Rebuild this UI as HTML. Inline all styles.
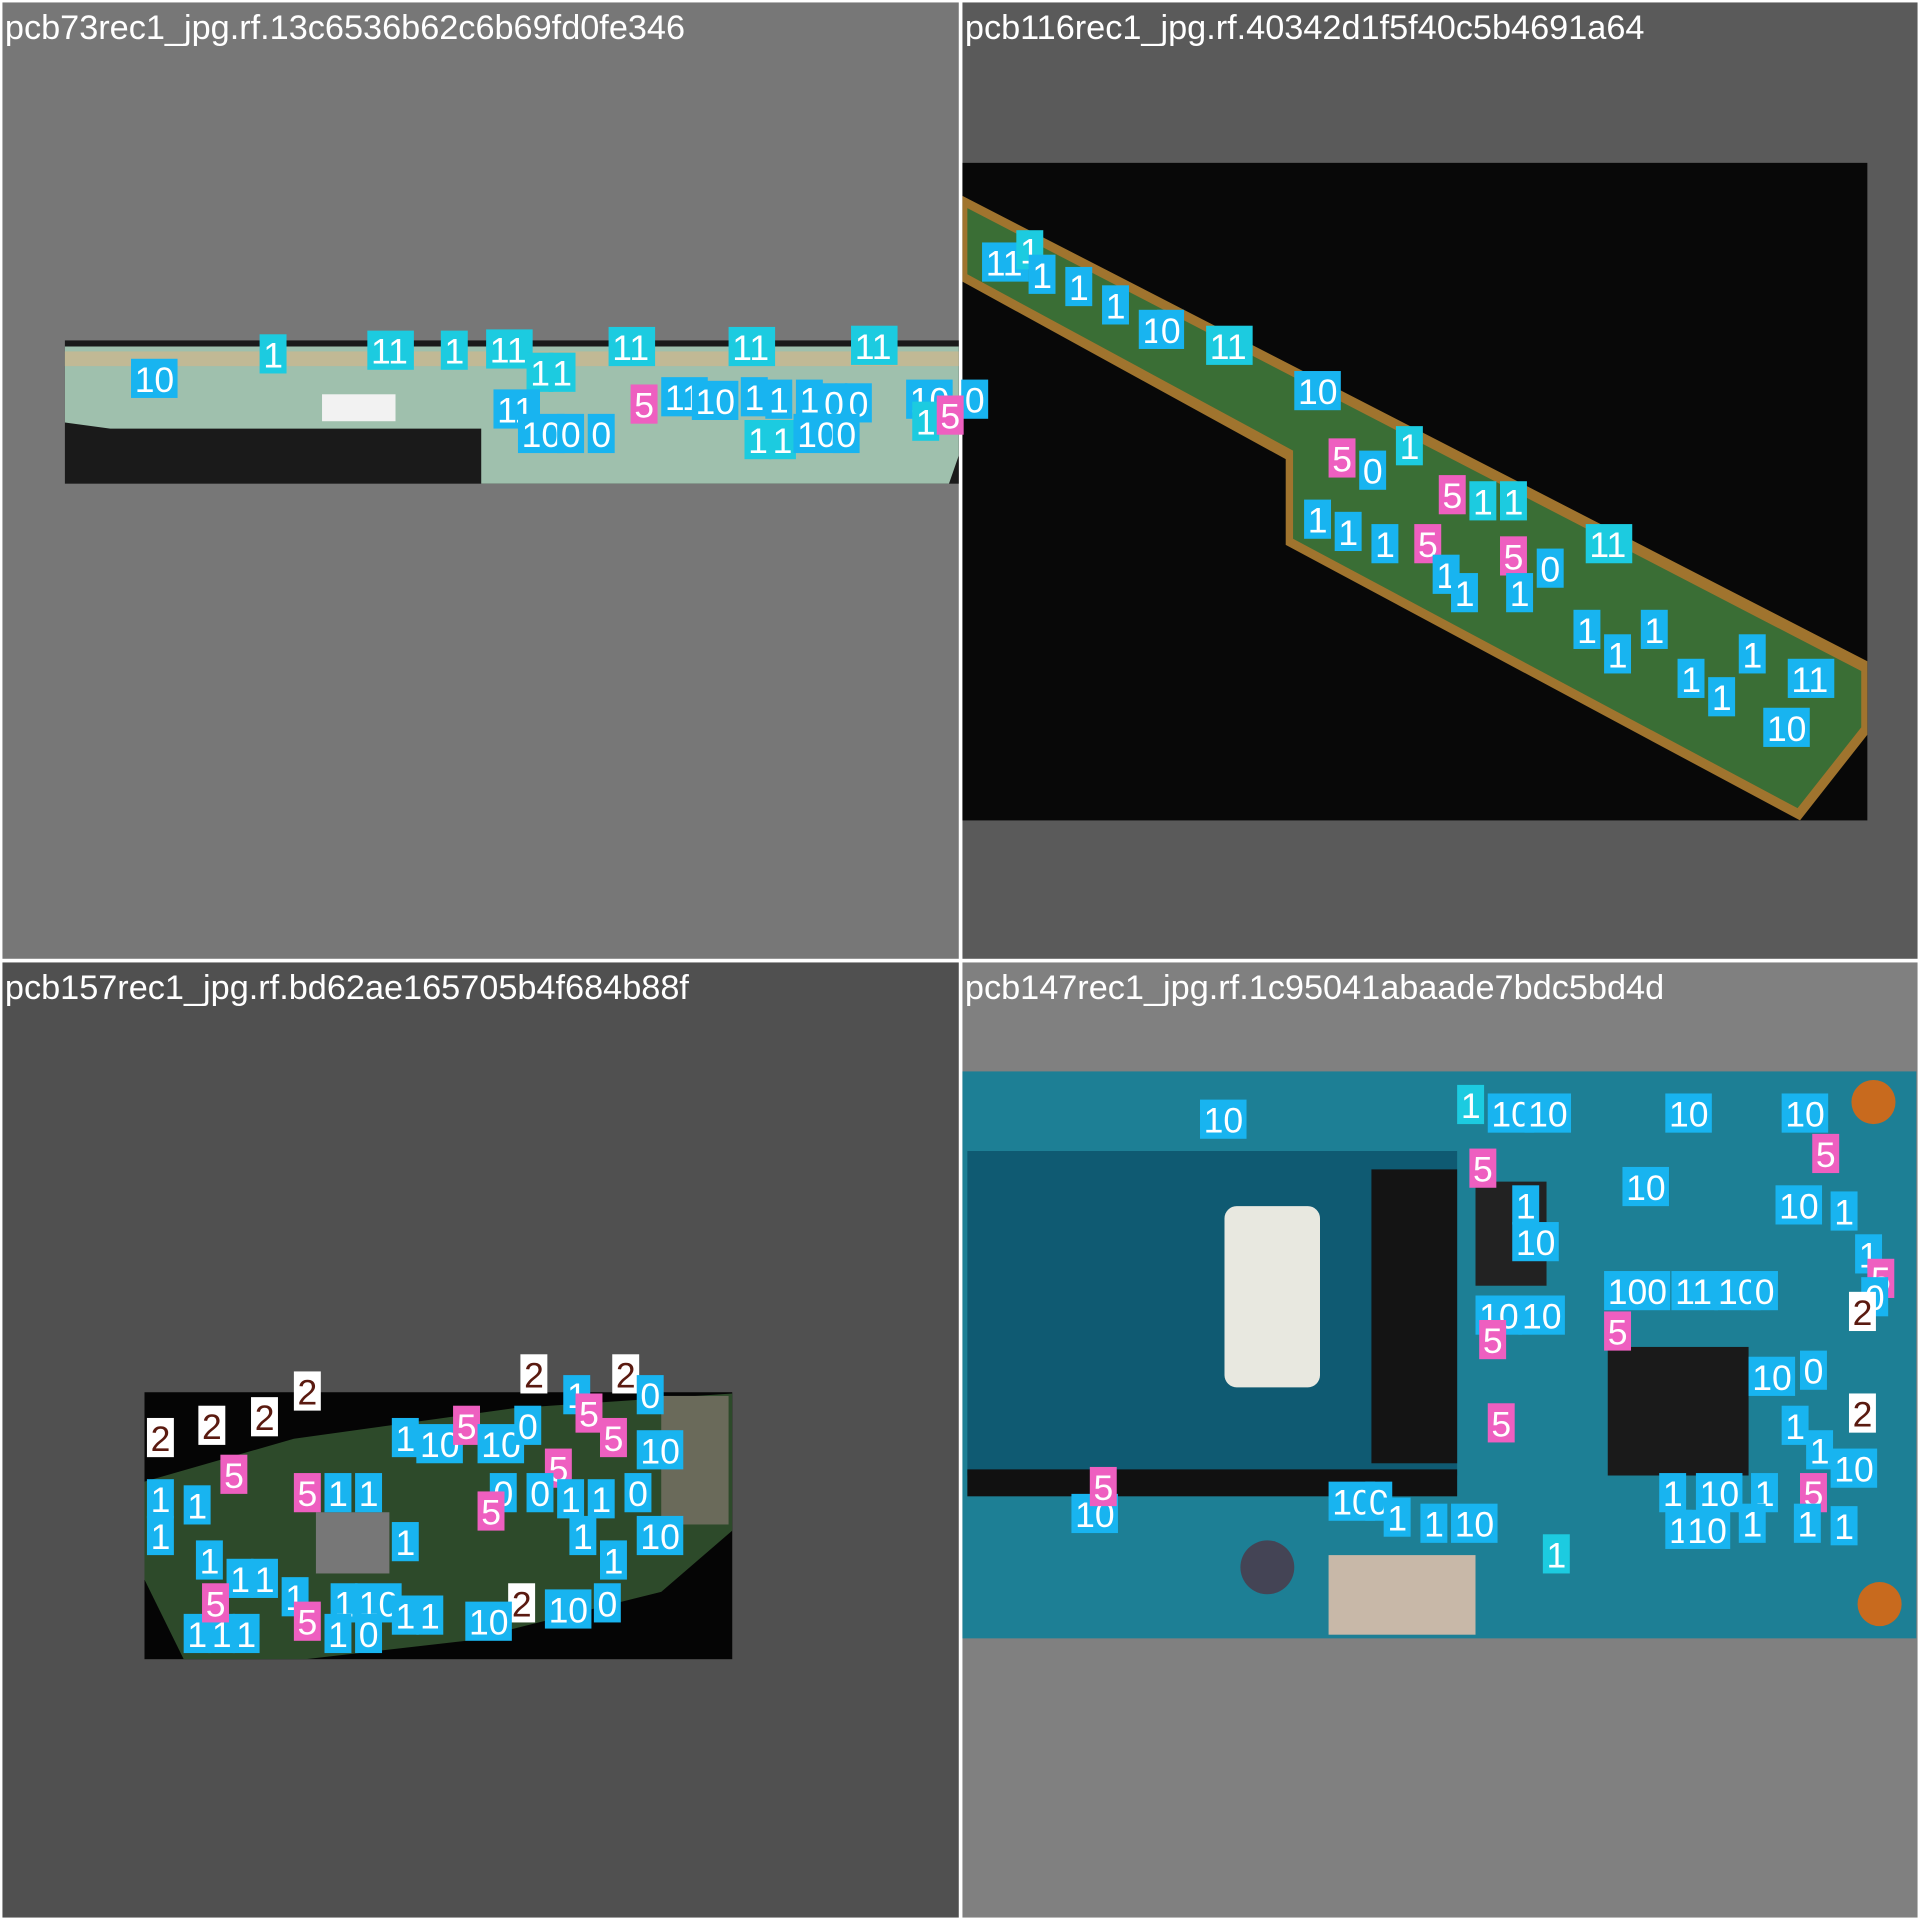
<!DOCTYPE html>
<html><head><meta charset="utf-8">
<style>
html,body{margin:0;padding:0;background:#fff;}
svg{display:block;}
text{font-family:"Liberation Sans",sans-serif;}
</style></head>
<body>
<svg id="s" width="1920" height="1920" viewBox="0 0 1568 1568" xmlns="http://www.w3.org/2000/svg">
<rect width="1568" height="1568" fill="#ffffff"/>
<rect x="2" y="2" width="781" height="781" fill="#777777"/>
<rect x="786" y="2" width="780" height="781" fill="#5a5a5a"/>
<rect x="2" y="786" width="781" height="780" fill="#505050"/>
<rect x="786" y="786" width="780" height="780" fill="#808080"/>

<g>
<rect x="53" y="278" width="730" height="117" fill="#1a1a1a"/>
<polygon points="53,283 783,283 783,372 775,395 393,395 393,350 90,350 53,345" fill="#9fc0ad"/>
<rect x="53" y="287" width="730" height="12" fill="#c9b78e" opacity="0.8"/>
<rect x="263" y="322" width="60" height="22" fill="#f2f2f2"/>
</g>
<g>
<rect x="786" y="133" width="739" height="537" fill="#080808"/>
<polygon points="786,160 1525,540 1525,600 1470,670 1050,445 1050,375 786,230" fill="#a0742e"/>
<polygon points="790,170 1520,548 1520,594 1468,660 1056,440 1056,368 790,224" fill="#3a6e35"/>
</g>
<g>
<rect x="118" y="1137" width="480" height="218" fill="#050505"/>
<polygon points="118,1210 240,1175 420,1150 598,1138 598,1250 540,1300 380,1340 250,1355 150,1355 118,1290" fill="#2d4a2a"/>
<rect x="258" y="1235" width="60" height="50" fill="#777"/>
<rect x="540" y="1140" width="55" height="105" fill="#6a6a5a"/>
</g>
<g>
<rect x="786" y="875" width="779" height="463" fill="#1d7f95"/>
<rect x="790" y="940" width="400" height="265" fill="#0f5a72"/>
<rect x="1120" y="955" width="70" height="240" fill="#141414"/>
<rect x="790" y="1200" width="400" height="22" fill="#111"/>
<rect x="1000" y="985" width="78" height="148" rx="10" fill="#e8e8e0"/>
<rect x="1313" y="1100" width="115" height="105" fill="#1a1a1a"/>
<rect x="1205" y="965" width="58" height="85" fill="#222"/>
<circle cx="1530" cy="900" r="18" fill="#c86a1e"/>
<circle cx="1535" cy="1310" r="18" fill="#c86a1e"/>
<circle cx="1035" cy="1280" r="22" fill="#445"/>
<rect x="1085" y="1270" width="120" height="65" fill="#c8b8a8"/>
</g>

<text x="4" y="32" font-size="28" fill="#fff">pcb73rec1_jpg.rf.13c6536b62c6b69fd0fe346</text>
<text x="788" y="32" font-size="28" fill="#fff">pcb116rec1_jpg.rf.40342d1f5f40c5b4691a64</text>
<text x="4" y="816" font-size="28" fill="#fff">pcb157rec1_jpg.rf.bd62ae165705b4f684b88f</text>
<text x="788" y="816" font-size="28" fill="#fff">pcb147rec1_jpg.rf.1c95041abaade7bdc5bd4d</text>
<g id="labels"></g>
</svg>
<script>
const C="#18b4f0",T="#1ccbe0",P="#ee5fc0",W="#ffffff";
const labels=[
[107,295,"10",C],[212,275,"1",T],[300,272,"11",T],[360,272,"1",T],[397,271,"11",T],[430,290,"1",T],[448,290,"1",T],[497,269,"11",T],[595,269,"11",T],[695,268,"11",T],[403,320,"11",C],[423,340,"10",C],[455,340,"0",C],[480,340,"0",C],[515,316,"5",P],[540,310,"11",C],[565,313,"10",C],[605,310,"1",C],[625,312,"1",C],[650,312,"1",C],[670,315,"0",C],[690,315,"0",C],[608,345,"1",T],[628,345,"1",T],[648,340,"10",C],[680,340,"0",C],[740,312,"10",C],[785,312,"0",C],[745,330,"1",T],[765,325,"5",P],
[802,200,"11",C],[830,190,"1",T],[840,210,"1",C],[870,220,"1",C],[900,235,"1",C],[930,255,"1",C],[945,255,"0",C],[985,268,"11",T],[1057,305,"10",C],[1085,360,"5",P],[1110,370,"0",C],[1140,350,"1",T],[1175,390,"5",P],[1200,395,"1",T],[1225,395,"1",T],[1065,410,"1",C],[1090,420,"1",C],[1120,430,"1",C],[1155,430,"5",P],[1170,455,"1",C],[1185,470,"1",C],[1225,440,"5",P],[1230,470,"1",C],[1255,450,"0",C],[1295,430,"11",T],[1285,500,"1",C],[1310,520,"1",C],[1340,500,"1",C],[1370,540,"1",C],[1395,555,"1",C],[1420,520,"1",C],[1440,580,"10",C],[1460,540,"11",C],
[120,1160,"2",W],[162,1150,"2",W],[205,1143,"2",W],[240,1122,"2",W],[425,1108,"2",W],[500,1108,"2",W],[415,1295,"2",W],
[120,1210,"1",C],[150,1215,"1",C],[180,1190,"5",P],[240,1205,"5",P],[265,1205,"1",C],[290,1205,"1",C],[320,1160,"1",C],[340,1165,"10",C],[370,1150,"5",P],[390,1165,"10",C],[420,1150,"0",C],[460,1125,"1",C],[470,1140,"5",P],[490,1160,"5",P],[520,1125,"0",C],[445,1185,"5",P],[520,1170,"10",C],[400,1205,"0",C],[430,1205,"0",C],[455,1210,"1",C],[480,1210,"1",C],[510,1205,"0",C],[390,1220,"5",P],[320,1245,"1",C],[465,1240,"1",C],[490,1260,"1",C],[520,1240,"10",C],[120,1240,"1",C],[160,1260,"1",C],[185,1275,"1",C],[205,1275,"1",C],[230,1290,"1",C],[270,1295,"1",C],[290,1295,"10",C],[320,1305,"1",C],[340,1305,"1",C],[380,1310,"10",C],[445,1300,"10",C],[485,1295,"0",C],[150,1320,"1",C],[170,1320,"1",C],[190,1320,"1",C],[240,1310,"5",P],[265,1320,"1",C],[290,1320,"0",C],[165,1295,"5",P],
[980,900,"10",C],[1190,888,"1",T],[1215,895,"10",C],[1245,895,"10",C],[1360,895,"10",C],[1455,895,"10",C],[1200,940,"5",P],[1480,928,"5",P],[1325,955,"10",C],[1450,970,"10",C],[1495,975,"1",C],[1235,970,"1",C],[1235,1000,"10",C],[1310,1040,"100",C],[1365,1040,"11",C],[1400,1040,"10",C],[1430,1040,"0",C],[1515,1010,"1",C],[1525,1030,"5",P],[1520,1045,"0",C],[1205,1060,"10",C],[1240,1060,"10",C],[1510,1057,"2",W],[1310,1073,"5",P],[1208,1080,"5",P],[1428,1110,"10",C],[1470,1105,"0",C],[1510,1140,"2",W],[1215,1148,"5",P],[1455,1150,"1",C],[1475,1170,"1",C],[1495,1185,"10",C],[1355,1205,"1",C],[1385,1205,"10",C],[1430,1205,"1",C],[1470,1205,"5",P],[1085,1212,"10",C],[1115,1212,"0",C],[1130,1225,"1",C],[1160,1230,"1",C],[1185,1230,"10",C],[1360,1235,"1",C],[1375,1235,"10",C],[1420,1230,"1",C],[1465,1230,"1",C],[1495,1232,"1",C],[875,1222,"10",C],[890,1200,"5",P],[1260,1255,"1",T]
];
const g=document.getElementById('labels');
const NS="http://www.w3.org/2000/svg";
for(const [x,y,t,c] of labels){
  const w=t.length*16+6;
  const r=document.createElementNS(NS,'rect');
  
  
  r.setAttribute('x',x);r.setAttribute('y',y-2);r.setAttribute('width',w);r.setAttribute('height',32);
  r.setAttribute('fill',c);
  g.appendChild(r);
  const tx=document.createElementNS(NS,'text');
  
  
  tx.setAttribute('x',x+3);tx.setAttribute('y',y+25);tx.setAttribute('font-size','29');
  tx.setAttribute('fill',c===W?'#5a1a10':'#ffffff');
  tx.textContent=t;
  g.appendChild(tx);
}
</script>
</body></html>
